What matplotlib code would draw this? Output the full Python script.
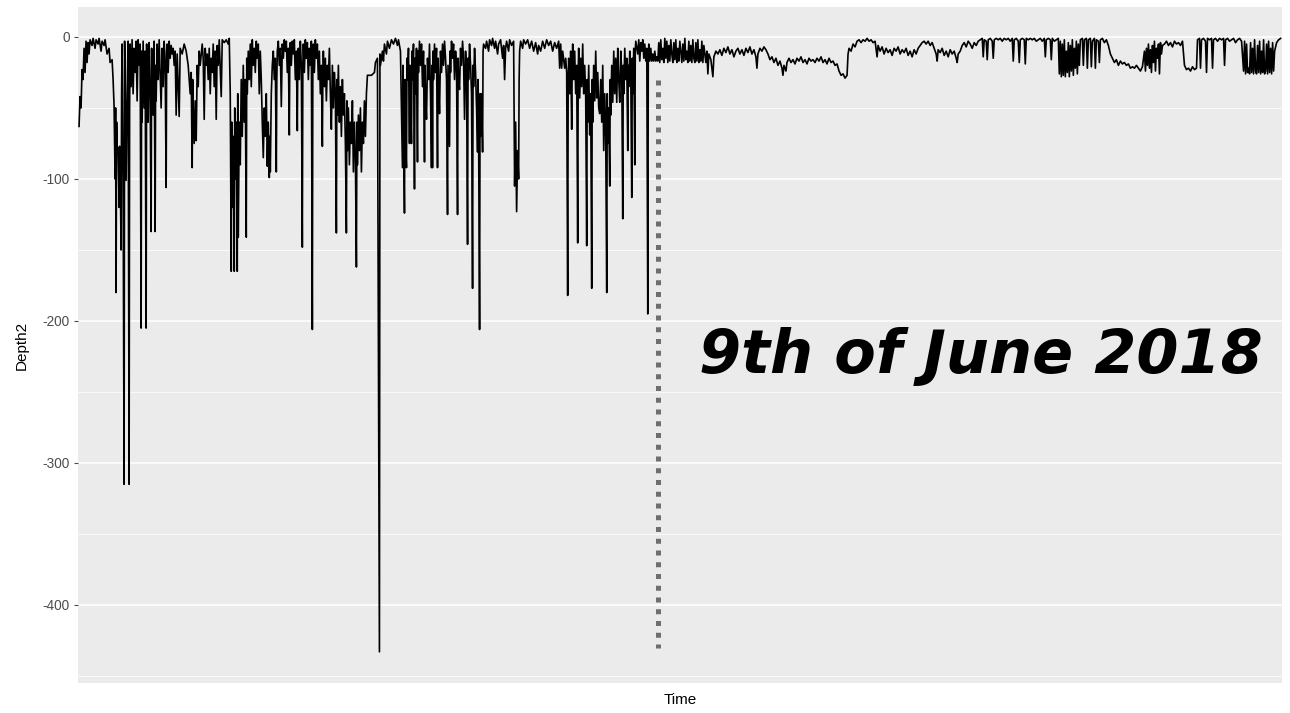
import matplotlib.pyplot as plt
import numpy as np

plt.rcParams['axes.unicode_minus'] = False
plt.rcParams['font.family'] = ['Liberation Sans', 'DejaVu Sans']

# (time, depth) readings before the 9th of June: deep dives
before_june = [
    (80, -63), (81, -42), (82, -50), (83, -23), (84, -30), (85, -8), (86, -25), (87, -3),
    (88, -18), (89, -4), (90, -12), (91, -2), (93, -6), (94, -1), (96, -8), (97, -2),
    (99, -5), (100, -1), (102, -10), (103, -3), (105, -6), (106, -2), (108, -12), (110, -8),
    (111, -18), (113, -16), (114, -30), (115, -49), (116, -100), (116.5, -50), (117, -180),
    (117.5, -60), (118, -78), (119, -78), (120, -120), (120.5, -77), (121, -90), (122, -150),
    (122.5, -40), (123, -5), (124, -100), (125, -315), (125.5, -3), (126, -30), (127, -101),
    (128, -40), (129, -3), (130, -315), (130.5, -50), (131, -5), (132, -35), (133, -2),
    (134, -40), (135, -8), (136, -25), (137, -3), (138, -45), (139, -2), (140, -20), (141, -5),
    (142, -205), (142.5, -10), (143, -60), (144, -3), (145, -50), (146, -10), (147, -205),
    (147.5, -5), (148, -30), (149, -60), (150, -4), (151, -40), (152, -137), (152.5, -8),
    (153, -30), (154, -55), (155, -3), (156, -137), (156.5, -20), (157, -45), (158, -5),
    (159, -30), (160, -2), (161, -25), (162, -50), (163, -8), (164, -35), (165, -3), (166, -20),
    (167, -106), (167.5, -10), (168, -5), (169, -25), (170, -3), (171, -15), (172, -6),
    (173, -12), (174, -8), (175, -20), (176, -10), (177, -55), (178, -12), (180, -56),
    (181, -8), (183, -12), (185, -5), (187, -10), (189, -20), (191, -40), (192, -25),
    (193, -92), (193.5, -30), (194, -50), (195, -75), (196, -45), (197, -73), (198, -20),
    (199, -35), (200, -10), (201, -20), (203, -5), (204, -15), (205, -58), (206, -8),
    (207, -20), (208, -12), (209, -30), (210, -8), (211, -40), (212, -15), (213, -25),
    (214, -5), (215, -35), (216, -10), (217, -58), (218, -6), (219, -20), (220, -2),
    (222, -42), (223, -2), (225, -4), (227, -2), (229, -5), (230, -1), (231, -40),
    (232, -165), (232.5, -60), (233, -120), (234, -70), (235, -165), (235.5, -50), (236, -100),
    (237, -60), (238, -165), (238.5, -40), (239, -141), (240, -60), (241, -90), (242, -30),
    (243, -70), (244, -20), (245, -60), (246, -30), (247, -141), (247.5, -15), (248, -40),
    (249, -10), (250, -30), (251, -5), (252, -35), (253, -2), (254, -20), (255, -8),
    (256, -25), (257, -3), (258, -15), (259, -5), (260, -40), (261, -10), (262, -30),
    (263, -60), (264, -85), (265, -50), (266, -70), (267, -40), (268, -91), (269, -60),
    (270, -99), (270.5, -70), (271, -95), (272, -40), (273, -20), (274, -10), (275, -30),
    (276, -15), (277, -95), (277.5, -30), (278, -10), (279, -3), (280, -20), (281, -8),
    (282, -49), (283, -5), (284, -15), (285, -2), (286, -10), (287, -3), (288, -25),
    (289, -8), (290, -69), (290.5, -10), (291, -4), (292, -20), (293, -3), (294, -12),
    (295, -2), (296, -30), (297, -10), (298, -66), (298.5, -15), (299, -8), (300, -30),
    (301, -3), (302, -20), (303, -148), (303.5, -20), (304, -5), (305, -25), (306, -2),
    (307, -15), (308, -4), (309, -30), (310, -8), (311, -20), (312, -3), (313, -206),
    (313.5, -10), (314, -5), (315, -25), (316, -2), (317, -15), (318, -5), (319, -30),
    (320, -10), (321, -40), (322, -20), (323, -77), (323.5, -25), (324, -10), (325, -35),
    (326, -15), (327, -45), (328, -20), (329, -30), (330, -8), (331, -40), (332, -65),
    (333, -20), (334, -50), (335, -25), (336, -40), (337, -138), (337.5, -30), (338, -55),
    (339, -20), (340, -60), (341, -35), (342, -70), (343, -30), (344, -55), (345, -40),
    (346, -75), (347, -138), (347.5, -45), (348, -80), (349, -50), (350, -90), (351, -60),
    (352, -75), (353, -45), (354, -95), (355, -60), (356, -85), (357, -162), (357.5, -60),
    (358, -90), (359, -55), (360, -80), (361, -50), (362, -95), (363, -60), (364, -75),
    (365, -45), (366, -70), (367, -40), (368, -27), (372, -27), (375, -25), (376, -18),
    (378, -15), (380, -433), (380.5, -12), (381, -20), (383, -10), (384, -17), (385, -5),
    (387, -12), (388, -3), (390, -8), (392, -2), (394, -5), (396, -1), (398, -6), (399, -2),
    (401, -10), (402, -50), (403, -92), (403.5, -20), (404, -60), (405, -124), (405.5, -30),
    (406, -70), (407, -92), (407.5, -15), (408, -30), (409, -8), (410, -75), (410.5, -20),
    (411, -40), (412, -75), (412.5, -10), (413, -30), (414, -5), (415, -107), (415.5, -15),
    (416, -40), (417, -8), (418, -88), (418.5, -10), (419, -25), (420, -3), (421, -20),
    (422, -5), (423, -35), (424, -10), (425, -88), (425.5, -20), (426, -40), (427, -58),
    (428, -15), (429, -30), (430, -5), (431, -40), (432, -92), (432.5, -20), (433, -92),
    (433.5, -10), (434, -30), (435, -5), (436, -25), (437, -8), (438, -92), (438.5, -15),
    (439, -30), (440, -54), (441, -10), (442, -25), (443, -5), (444, -20), (445, -3),
    (446, -15), (447, -30), (448, -125), (448.5, -20), (449, -40), (450, -77), (450.5, -10),
    (451, -25), (452, -3), (453, -15), (454, -5), (455, -30), (456, -10), (457, -20),
    (458, -125), (458.5, -15), (459, -30), (460, -37), (461, -8), (462, -20), (463, -3),
    (464, -15), (465, -58), (466, -10), (467, -25), (468, -146), (468.5, -15), (469, -30),
    (470, -5), (471, -20), (472, -40), (473, -177), (473.5, -20), (474, -35), (475, -8),
    (476, -25), (477, -50), (478, -81), (478.5, -30), (479, -60), (480, -206), (480.5, -40),
    (481, -70), (482, -40), (483, -81), (483.5, -10), (484, -5), (486, -8), (487, -3),
    (489, -10), (490, -2), (492, -6), (493, -1), (495, -8), (496, -3), (498, -12), (499, -5),
    (501, -2), (503, -15), (504, -6), (505, -30), (506, -8), (507, -3), (509, -10), (510, -2),
    (512, -6), (514, -3), (515, -105), (516, -60), (517, -123), (518, -80), (519, -100),
    (519.5, -30), (520, -10), (521, -3), (523, -8), (524, -2), (526, -5), (528, -2), (530, -8),
    (532, -3), (534, -10), (536, -4), (538, -12), (539, -6), (541, -10), (543, -3), (545, -8),
    (547, -2), (549, -6), (551, -3), (553, -10), (555, -4), (557, -8), (559, -3), (560, -22),
    (561, -5), (562, -22), (563, -10), (565, -22), (566, -15), (567, -25), (568, -182),
    (568.5, -30), (569, -15), (570, -40), (571, -10), (572, -65), (572.5, -20), (573, -5),
    (574, -30), (575, -10), (576, -40), (577, -20), (578, -145), (578.5, -25), (579, -8),
    (580, -43), (581, -15), (582, -35), (583, -5), (584, -40), (585, -20), (586, -43),
    (587, -147), (587.5, -30), (588, -60), (589, -20), (590, -69), (591, -40), (592, -177),
    (592.5, -30), (593, -60), (594, -20), (595, -45), (596, -10), (597, -43), (598, -25),
    (599, -50), (600, -54), (601, -30), (602, -60), (603, -20), (604, -80), (605, -40),
    (606, -70), (607, -180), (607.5, -40), (608, -75), (609, -50), (610, -105), (610.5, -30),
    (611, -55), (612, -20), (613, -46), (614, -10), (615, -40), (616, -15), (617, -46),
    (618, -8), (619, -30), (620, -46), (621, -10), (622, -25), (623, -128), (623.5, -20),
    (624, -40), (625, -8), (626, -30), (627, -15), (628, -80), (628.5, -20), (629, -35),
    (630, -10), (631, -25), (632, -113), (632.5, -15), (633, -40), (634, -8), (635, -90),
    (635.5, -10), (636, -3), (638, -12), (639, -2), (640, -17), (641, -4), (642, -10),
    (643, -2), (644, -15), (645, -5), (646, -17), (647, -8), (648, -195), (648.5, -15),
    (649, -5), (650, -17), (651, -8), (652, -17), (653, -12), (654, -17), (655, -10),
    (656, -17), (657, -14),
]

# (time, depth) readings after the 9th of June: shallow
after_june = [
    (658, -17), (659, -4), (660, -18), (661, -2), (662, -16), (663, -8), (664, -18), (665, -1),
    (666, -15), (667, -3), (668, -18), (669, -6), (670, -17), (671, -2), (672, -12), (673, -18),
    (674, -4), (675, -16), (676, -2), (677, -18), (678, -8), (679, -17), (680, -3), (682, -18),
    (683, -5), (684, -17), (685, -1), (686, -16), (687, -10), (688, -18), (689, -3), (690, -17),
    (691, -6), (692, -18), (693, -2), (694, -15), (695, -18), (696, -4), (697, -17), (698, -2),
    (699, -18), (700, -9), (701, -17), (702, -3), (703, -18), (704, -6), (706, -18), (707, -10),
    (708, -26), (709, -12), (711, -16), (713, -28), (714, -14), (716, -10), (718, -12), (720, -9),
    (722, -13), (724, -8), (726, -11), (728, -7), (730, -12), (732, -9), (734, -14), (736, -10),
    (738, -8), (740, -12), (742, -9), (744, -13), (746, -8), (748, -11), (750, -7), (752, -12),
    (754, -9), (756, -14), (757, -22), (758, -12), (760, -8), (762, -10), (764, -7), (766, -9),
    (768, -12), (770, -16), (772, -14), (774, -18), (776, -15), (778, -20), (780, -17), (782, -22),
    (783, -27), (784, -20), (786, -24), (787, -18), (789, -15), (791, -18), (793, -16), (795, -19),
    (797, -15), (799, -17), (801, -14), (803, -18), (805, -16), (807, -19), (809, -15), (811, -17),
    (813, -16), (815, -18), (817, -15), (819, -17), (821, -14), (823, -18), (825, -16), (827, -19),
    (829, -15), (831, -18), (833, -17), (835, -20), (837, -19), (839, -24), (841, -27), (843, -26),
    (845, -29), (847, -27), (848, -12), (849, -8), (851, -10), (853, -5), (855, -7), (857, -3),
    (859, -2), (861, -4), (863, -2), (865, -3), (867, -1), (869, -3), (871, -2), (873, -4),
    (875, -3), (877, -14), (878, -6), (880, -10), (882, -7), (884, -12), (886, -8), (888, -11),
    (890, -9), (892, -13), (894, -8), (896, -10), (898, -7), (900, -12), (902, -9), (904, -11),
    (906, -8), (908, -13), (910, -10), (912, -14), (914, -9), (916, -12), (918, -8), (920, -6),
    (922, -4), (924, -3), (926, -5), (928, -3), (930, -6), (932, -4), (934, -8), (936, -12),
    (937, -17), (938, -9), (940, -11), (942, -8), (944, -13), (946, -10), (948, -14), (950, -9),
    (952, -12), (954, -10), (956, -15), (957, -18), (958, -12), (960, -10), (962, -6), (964, -4),
    (966, -7), (968, -3), (970, -5), (972, -8), (974, -4), (976, -6), (978, -3), (980, -2),
    (982, -1), (983, -14), (984, -2), (986, -3), (987, -16), (988, -2), (990, -1), (992, -3),
    (993, -15), (994, -2), (996, -1), (998, -2), (1000, -1), (1002, -3), (1004, -1), (1006, -2),
    (1008, -1), (1010, -3), (1012, -1), (1013, -17), (1014, -2), (1016, -1), (1018, -3),
    (1019, -18), (1020, -2), (1022, -1), (1024, -2), (1025, -19), (1026, -1), (1028, -2),
    (1030, -1), (1032, -2), (1034, -1), (1036, -3), (1038, -2), (1040, -1), (1042, -3),
    (1044, -1), (1045, -14), (1046, -2), (1048, -1), (1050, -2), (1051, -16), (1052, -1),
    (1054, -3), (1056, -2), (1058, -1), (1059, -26), (1060, -3), (1061, -28), (1062, -5),
    (1063, -27), (1064, -2), (1065, -28), (1066, -10), (1067, -25), (1068, -4), (1069, -28),
    (1070, -6), (1071, -24), (1072, -2), (1073, -27), (1074, -8), (1075, -22), (1076, -3),
    (1077, -26), (1078, -5), (1079, -20), (1080, -2), (1082, -1), (1083, -20), (1084, -2),
    (1086, -1), (1087, -22), (1088, -2), (1090, -1), (1091, -21), (1092, -3), (1094, -1),
    (1095, -22), (1096, -2), (1098, -3), (1099, -18), (1100, -2), (1102, -1), (1104, -4),
    (1106, -2), (1108, -6), (1110, -12), (1112, -15), (1114, -18), (1116, -16), (1118, -20),
    (1120, -17), (1122, -19), (1124, -18), (1126, -20), (1128, -19), (1130, -22), (1132, -21),
    (1134, -22), (1136, -20), (1138, -22), (1140, -24), (1142, -21), (1144, -10), (1145, -24),
    (1146, -8), (1147, -20), (1148, -5), (1149, -22), (1150, -9), (1151, -25), (1152, -6),
    (1153, -18), (1154, -3), (1155, -24), (1156, -8), (1157, -15), (1158, -5), (1159, -26),
    (1160, -4), (1161, -12), (1162, -6), (1164, -5), (1166, -3), (1168, -6), (1170, -4),
    (1172, -7), (1174, -3), (1176, -5), (1178, -4), (1180, -6), (1182, -3), (1184, -20),
    (1186, -23), (1188, -22), (1190, -24), (1192, -21), (1194, -23), (1196, -22), (1197, -2),
    (1199, -1), (1200, -22), (1201, -2), (1203, -1), (1205, -3), (1206, -25), (1207, -1),
    (1209, -2), (1211, -1), (1212, -22), (1213, -2), (1215, -1), (1217, -3), (1219, -1),
    (1221, -2), (1223, -1), (1224, -20), (1225, -2), (1227, -1), (1229, -3), (1231, -2),
    (1233, -1), (1235, -4), (1237, -2), (1239, -1), (1241, -3), (1243, -24), (1244, -3),
    (1245, -26), (1246, -5), (1247, -25), (1248, -22), (1249, -26), (1250, -4), (1251, -25),
    (1252, -8), (1253, -26), (1254, -2), (1255, -24), (1256, -26), (1257, -6), (1258, -25),
    (1259, -3), (1260, -26), (1261, -10), (1262, -25), (1263, -2), (1264, -26), (1265, -24),
    (1266, -5), (1267, -26), (1268, -3), (1269, -25), (1270, -8), (1271, -26), (1272, -4),
    (1273, -24), (1274, -10), (1276, -4), (1278, -2), (1280, -1),
]

# dotted marker for the 9th of June
june_time = 658
june_depths = [-30, -430]
label_text = '9th of June 2018'
label_pos = (981, -225)

time = [p[0] for p in before_june + after_june]
depth = [p[1] for p in before_june + after_june]

fig = plt.figure(figsize=(12.9, 7.13), dpi=100)
ax = fig.add_axes([0.0605, 0.042, 0.933, 0.948])
ax.set_facecolor('#EBEBEB')

ax.plot(time, depth, color='black', lw=1.2, zorder=3)
ax.plot([june_time, june_time], june_depths, color='#6e6e6e', lw=3.6,
        linestyle=(0, (1, 1.35)), dash_capstyle='butt', zorder=4)

ax.text(label_pos[0], label_pos[1], label_text, fontsize=43.6, fontweight='bold',
        fontstyle='italic', family='DejaVu Sans', ha='center', va='center', zorder=5)

ax.set_xlim(79, 1281)
ax.set_ylim(-455, 21)
ax.set_yticks([0, -100, -200, -300, -400])
ax.set_yticks([-50, -150, -250, -350, -450], minor=True)
ax.set_xticks([])
ax.grid(True, which='major', axis='y', color='white', lw=1.1)
ax.grid(True, which='minor', axis='y', color='white', lw=0.55)
ax.set_axisbelow(True)
for s in ax.spines.values():
    s.set_visible(False)
ax.tick_params(axis='y', which='major', length=3, color='#4d4d4d', labelcolor='#4d4d4d',
               labelsize=9.8, pad=3)
ax.tick_params(axis='y', which='minor', length=0)

ax.set_xlabel('Time', fontsize=11, labelpad=7)
ax.set_ylabel('Depth2', fontsize=11, labelpad=10)

plt.savefig('out.png', dpi=100)
